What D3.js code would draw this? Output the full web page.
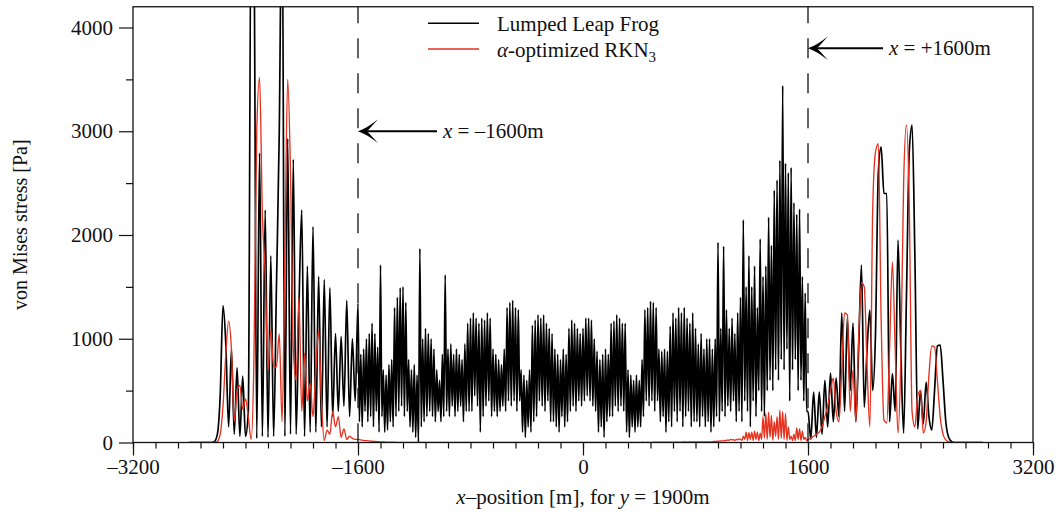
<!DOCTYPE html>
<html>
<head>
<meta charset="utf-8">
<script src="https://cdn.jsdelivr.net/npm/d3@7"></script>
<style>
  body { margin: 0; background: #fff; }
  svg { display: block; font-family: "Liberation Serif", "Times New Roman", serif; }
</style>
</head>
<body>
<svg id="chart" width="1061" height="515"></svg>
<script>
// ---------- data: von Mises stress along y = 1900m ----------
// each series is stored in pieces: [first x, spacing in m, values]

// Lumped Leap Frog, x = -2800 .. -1620 every 20 m
const lfLeft = [
  0, 0, 0, 0, 0,
  0, 0, 0, 0, 10,
  80, 450, 1320, 950, 150,
  900, 80, 720, 60, 640,
  60, 300, 5200, 4800, 40,
  2790, 60, 2240, 50, 1800,
  60, 1500, 2980, 5400, 60,
  2930, 80, 2730, 80, 1300,
  2240, 60, 1700, 100, 2080,
  100, 1600, 150, 1570, 150,
  1490, 250, 1050, 300, 1020,
  350, 1370, 250, 1000, 400
];
// Lumped Leap Frog, x = -1600 .. 1600 every 10 m
const lfMid = [
  1340, 200, 850, 150, 900, 300, 1000, 200, 1050, 250,
  1150, 150, 1050, 300, 920, 100, 1710, 250, 700, 100,
  650, 120, 750, 200, 800, 150, 1300, 250, 1400, 300,
  1490, 350, 1500, 250, 1350, 300, 800, 150, 700, 100,
  750, 50, 650, 0, 1870, 150, 1000, 200, 1100, 250,
  1050, 300, 1000, 250, 900, 200, 700, 300, 600, 200,
  850, 250, 1615, 300, 900, 250, 950, 350, 850, 250,
  900, 300, 850, 350, 800, 200, 950, 300, 1150, 300,
  1200, 300, 1250, 450, 1200, 350, 1150, 100, 1200, 250,
  1180, 350, 1250, 400, 1200, 250, 900, 300, 850, 250,
  800, 300, 750, 350, 900, 300, 1300, 400, 1350, 350,
  1370, 400, 1300, 300, 1280, 400, 700, 100, 650, 50,
  600, 150, 700, 100, 1130, 200, 1180, 250, 1230, 400,
  1200, 350, 1230, 300, 1150, 400, 1100, 200, 1050, 200,
  900, 150, 850, 100, 800, 250, 900, 150, 850, 200,
  1100, 300, 1180, 350, 1150, 300, 1100, 400, 1050, 350,
  1100, 400, 1200, 450, 1200, 400, 1180, 350, 1000, 300,
  880, 100, 800, 150, 850, 50, 900, 200, 850, 250,
  1150, 250, 1170, 350, 1230, 300, 1200, 350, 1150, 300,
  1150, 100, 700, 50, 650, 150, 600, 100, 650, 150,
  600, 150, 800, 250, 1280, 400, 1300, 350, 1360, 400,
  1350, 300, 1300, 400, 900, 200, 880, 250, 900, 100,
  880, 200, 1120, 150, 1250, 300, 1200, 200, 1300, 300,
  1250, 150, 1300, 250, 1200, 300, 1150, 150, 1250, 200,
  1100, 200, 950, 150, 1050, 250, 900, 150, 1000, 200,
  1000, 100, 900, 150, 1000, 250, 1930, 200, 1100, 300,
  1890, 250, 1280, 350, 1100, 300, 1200, 400, 1050, 200,
  1250, 300, 1400, 200, 2145, 400, 1500, 300, 1800, 150,
  1500, 400, 1700, 250, 1300, 500, 1960, 300, 1600, 250,
  1700, 500, 2170, 600, 1900, 500, 2430, 700, 2530, 600,
  2720, 800, 3440, 700, 2690, 900, 2600, 400, 2650, 700,
  2310, 800, 2200, 500, 2250, 600, 1600, 400, 1440, 300,
  300
];
// Lumped Leap Frog, x = 1620 .. 2840 every 20 m
const lfRight = [
  30, 485, 50, 485,
  80, 600, 150, 670, 200,
  620, 250, 1250, 300, 1200,
  500, 1150, 200, 900, 1710,
  340, 900, 1277, 500, 1050,
  2600, 2850, 2400, 2400, 200,
  665, 300, 1950, 900, 90,
  1400, 2800, 3060, 1800, 130,
  500, 180, 580, 250, 120,
  500, 930, 940, 600, 200,
  50, 10, 0, 0, 0,
  0, 0, 0, 0, 0,
  0, 0, 0
];

// alpha-optimized RKN3, x = -2800 .. 980 every 20 m
const rknLeft = [
  0, 0, 0, 0, 0,
  0, 0, 0, 0, 0,
  10, 80, 350, 850, 1170,
  900, 200, 500, 550, 320,
  420, 250, 30, 800, 3000,
  3520, 2200, 1630, 700, 1080,
  730, 730, 1050, 200, 1800,
  3500, 2600, 900, 600, 1400,
  300, 860, 400, 570, 250,
  700, 1080, 400, 20, 120,
  80, 300, 150, 250, 50,
  130, 30, 60, 40, 30,
  30, 25, 20, 18, 15,
  12, 10, 8, 6, 5,
  4, 3, 2, 2, 1,
  1, 1, 1, 0, 0,
  0, 0, 0, 0, 0,
  0, 0, 0, 0, 0,
  0, 0, 0, 0, 0,
  0, 0, 0, 0, 0,
  0, 0, 0, 0, 0,
  0, 0, 0, 0, 0,
  0, 0, 0, 0, 0,
  0, 0, 0, 0, 0,
  0, 0, 0, 0, 0,
  0, 0, 0, 0, 0,
  0, 0, 0, 0, 0,
  0, 0, 0, 0, 0,
  0, 0, 0, 0, 0,
  0, 0, 0, 0, 0,
  0, 1, 0, 1, 0,
  1, 0, 1, 0, 1,
  1, 2, 1, 2, 1,
  2, 2, 3, 2, 3,
  3, 3, 4, 3, 4,
  4, 5, 4, 5, 5,
  5, 6, 5, 6, 5,
  5, 8, 10, 12, 15
];
// alpha-optimized RKN3, x = 1000 .. 1600 every 10 m
const rknMid = [
  15, 20, 18, 25, 20, 30, 25, 28, 20, 30,
  25, 35, 30, 20, 60, 30, 100, 20, 95, 30,
  100, 20, 110, 30, 100, 20, 90, 30, 250, 40,
  280, 30, 295, 50, 260, 20, 200, 60, 250, 30,
  313, 40, 300, 30, 280, 20, 150, 30, 60, 20,
  80, 20, 140, 30, 130, 20, 110, 30, 50, 20,
  30
];
// alpha-optimized RKN3, x = 1620 .. 2840 every 20 m
const rknRight = [
  40, 60, 80, 100,
  150, 250, 350, 500, 620,
  300, 200, 700, 1250, 1230,
  300, 700, 200, 1000, 1540,
  1500, 730, 150, 2240, 2800,
  2880, 1200, 215, 190, 900,
  1740, 900, 90, 800, 2500,
  3060, 2300, 300, 150, 450,
  500, 90, 200, 650, 930,
  920, 600, 250, 80, 25,
  5, 0, 0, 0, 0,
  0, 0, 0, 0, 0,
  0, 0, 0
];

const xTicks = [-3200, -1600, 0, 1600, 3200];
const yTicks = [0, 1000, 2000, 3000, 4000];
const boundaries = [-1600, 1600];

// ---------- layout ----------
const width = 1061, height = 515;
const margin = { top: 6.75, right: 28, bottom: 72.5, left: 133 };

const x = d3.scaleLinear([-3200, 3200], [margin.left, width - margin.right]);
const y = d3.scaleLinear([0, 4200], [height - margin.bottom, margin.top]);

const svg = d3.select("#chart");
const ink = "#111";
const red = "#e4321f";

svg.append("defs").append("clipPath").attr("id", "plot-clip")
  .append("rect")
    .attr("x", margin.left).attr("y", margin.top)
    .attr("width", x.range()[1] - margin.left)
    .attr("height", y.range()[0] - margin.top);

const piece = (start, step, arr) => arr.map((v, i) => [start + i * step, v]);
const leapFrog = [
  ...piece(-2800, 20, lfLeft),
  ...piece(-1600, 10, lfMid),
  ...piece(1620, 20, lfRight)
];
const rkn3 = [
  ...piece(-2800, 20, rknLeft),
  ...piece(1000, 10, rknMid),
  ...piece(1620, 20, rknRight)
];

const line = d3.line()
  .x(d => x(d[0]))
  .y(d => y(d[1]))
  .curve(d3.curveMonotoneX);

const plot = svg.append("g").attr("clip-path", "url(#plot-clip)");

plot.append("path")
  .attr("d", line(leapFrog))
  .attr("fill", "none")
  .attr("stroke", "#000")
  .attr("stroke-width", 1.7)
  .attr("stroke-linejoin", "round");

plot.append("path")
  .attr("d", line(rkn3))
  .attr("fill", "none")
  .attr("stroke", red)
  .attr("stroke-width", 1.35)
  .attr("stroke-linejoin", "round");

// dashed boundaries
svg.selectAll("line.bound")
  .data(boundaries)
  .join("line")
    .attr("class", "bound")
    .attr("x1", d => x(d)).attr("x2", d => x(d))
    .attr("y1", y.range()[1]).attr("y2", y.range()[0])
    .attr("stroke", ink)
    .attr("stroke-width", 1.3)
    .attr("stroke-dasharray", "20,15")
    .attr("stroke-dashoffset", 3.5);

// ---------- axes ----------
const fmt = d => d < 0 ? "\u2013" + Math.abs(d) : String(d);

const xMinor = svg.append("g")
  .attr("transform", `translate(0,${y(0)})`)
  .call(d3.axisBottom(x).tickValues(d3.range(-3200, 3201, 160)).tickSize(6).tickFormat(""));
const xMajor = svg.append("g")
  .attr("transform", `translate(0,${y(0)})`)
  .call(d3.axisBottom(x).tickValues(xTicks).tickSize(13).tickPadding(4).tickFormat(fmt));

const yMinor = svg.append("g")
  .attr("transform", `translate(${x(-3200)},0)`)
  .call(d3.axisLeft(y).tickValues([500, 1500, 2500, 3500]).tickSize(7).tickFormat(""));
const yMajor = svg.append("g")
  .attr("transform", `translate(${x(-3200)},0)`)
  .call(d3.axisLeft(y).tickValues(yTicks).tickSize(14).tickPadding(6).tickFormat(fmt));

[xMinor, xMajor, yMinor, yMajor].forEach(g => {
  g.select(".domain").remove();
  g.selectAll("line").attr("stroke", ink).attr("stroke-width", 1.2);
  g.selectAll("text")
    .attr("fill", ink)
    .style("font-family", '"Liberation Serif", serif')
    .style("font-size", "21px");
});

// frame
svg.append("rect")
  .attr("x", margin.left).attr("y", margin.top)
  .attr("width", x.range()[1] - margin.left)
  .attr("height", y.range()[0] - margin.top)
  .attr("fill", "none")
  .attr("stroke", ink)
  .attr("stroke-width", 1.3);

// axis titles
const xTitle = svg.append("text")
  .attr("x", x(0)).attr("y", 504)
  .attr("text-anchor", "middle")
  .attr("fill", ink)
  .style("font-size", "21px");
xTitle.append("tspan").attr("font-style", "italic").text("x");
xTitle.append("tspan").text("\u2013position [m], for ");
xTitle.append("tspan").attr("font-style", "italic").text("y");
xTitle.append("tspan").text(" = 1900m");

svg.append("text")
  .attr("transform", `translate(27,${(y(0) + margin.top) / 2}) rotate(-90)`)
  .attr("text-anchor", "middle")
  .attr("fill", ink)
  .style("font-size", "20px")
  .text("von Mises stress [Pa]");

// ---------- legend ----------
const legend = svg.append("g");
const legendItems = [
  { color: "#000", y: 23.3, base: 30.5 },
  { color: red, y: 49, base: 56.5 }
];
legendItems.forEach(d => {
  legend.append("line")
    .attr("x1", 428).attr("x2", 479)
    .attr("y1", d.y).attr("y2", d.y)
    .attr("stroke", d.color)
    .attr("stroke-width", 1.4);
});
legend.append("text")
  .attr("x", 497).attr("y", legendItems[0].base)
  .attr("fill", ink).style("font-size", "21px")
  .text("Lumped Leap Frog");
const l2 = legend.append("text")
  .attr("x", 497).attr("y", legendItems[1].base)
  .attr("fill", ink).style("font-size", "21px");
l2.append("tspan").attr("font-style", "italic").text("\u03b1");
l2.append("tspan").text("-optimized RKN");
l2.append("tspan").attr("dy", 5).style("font-size", "15px").text("3");

// ---------- arrows & annotations ----------
function arrow(xVal, yVal, tailX, label) {
  const tx = x(xVal), ty = y(yVal);
  const g = svg.append("g");
  g.append("line")
    .attr("x1", tx + 8).attr("x2", tailX)
    .attr("y1", ty).attr("y2", ty)
    .attr("stroke", "#000").attr("stroke-width", 1.8);
  g.append("path")
    .attr("transform", `translate(${tx},${ty})`)
    .attr("d", "M0,0 Q9,-3 20,-12 Q12,-3 9,0 Q12,3 20,12 Q9,3 0,0 Z")
    .attr("fill", "#000");
  const t = g.append("text")
    .attr("x", tailX + 6).attr("y", ty + 7)
    .attr("fill", ink).style("font-size", "21px");
  t.append("tspan").attr("font-style", "italic").text("x");
  t.append("tspan").text(" = " + label);
}
arrow(-1600, 3000, 437, "\u20131600m");
arrow(1600, 3800, 883, "+1600m");
</script>
</body>
</html>
